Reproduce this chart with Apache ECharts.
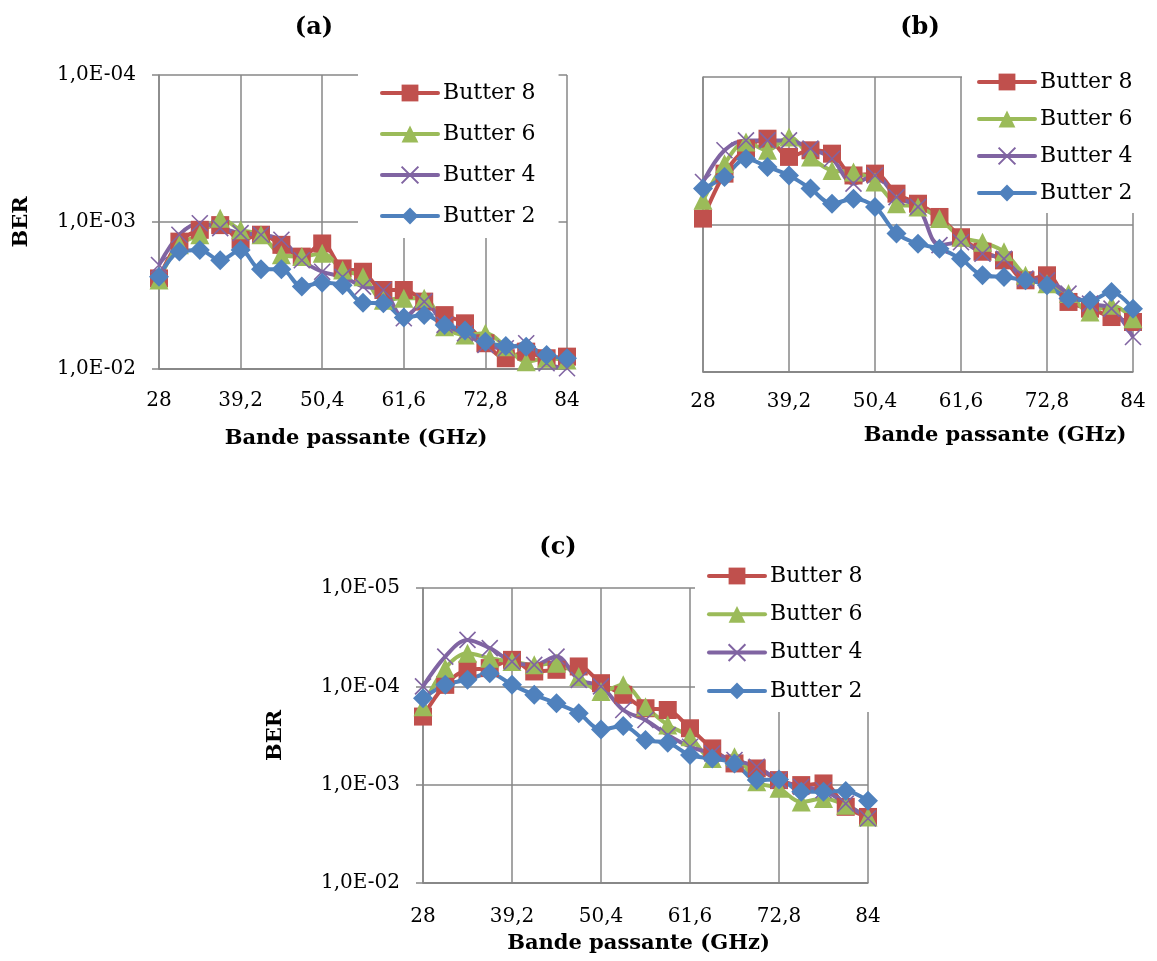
<!DOCTYPE html>
<html>
<head>
<meta charset="utf-8">
<script src="https://cdn.jsdelivr.net/npm/echarts@6/dist/echarts.min.js"></script>
<style>
html,body{margin:0;padding:0;background:#fff;}
#chart{width:1157px;height:961px;}
</style>
</head>
<body>
<div id="chart"></div>
<script>
// ---- Data (BER vs bandwidth in GHz) ----
const categories = ['28','30,8','33,6','36,4','39,2','42','44,8','47,6','50,4','53,2','56','58,8','61,6','64,4','67,2','70','72,8','75,6','78,4','81,2','84'];
const seriesNames = ['Butter 8','Butter 6','Butter 4','Butter 2'];
const yLabelsAB = ['1,0E-04','1,0E-03','1,0E-02'];
const yLabelsC = ['1,0E-05','1,0E-04','1,0E-03','1,0E-02'];
const panelTitles = ['(a)','(b)','(c)'];

// (a)
const a_butter8 = [2.42e-3,1.36e-3,1.13e-3,1.05e-3,1.32e-3,1.22e-3,1.43e-3,1.72e-3,1.40e-3,2.07e-3,2.18e-3,2.90e-3,2.90e-3,3.48e-3,4.30e-3,4.89e-3,6.68e-3,8.45e-3,7.62e-3,8.45e-3,8.24e-3];
const a_butter6 = [2.48e-3,1.43e-3,1.22e-3,9.44e-4,1.13e-3,1.22e-3,1.67e-3,1.72e-3,1.63e-3,2.12e-3,2.36e-3,3.40e-3,3.30e-3,3.30e-3,5.15e-3,5.87e-3,5.71e-3,7.05e-3,8.91e-3,8.45e-3,8.69e-3];
const a_butter4 = [1.96e-3,1.22e-3,1.02e-3,1.10e-3,1.19e-3,1.22e-3,1.32e-3,1.82e-3,2.18e-3,2.36e-3,2.75e-3,2.90e-3,4.52e-3,3.48e-3,5.01e-3,5.71e-3,6.87e-3,7.23e-3,6.68e-3,9.14e-3,9.89e-3];
const a_butter2 = [2.36e-3,1.59e-3,1.55e-3,1.82e-3,1.55e-3,2.10e-3,2.10e-3,2.75e-3,2.59e-3,2.69e-3,3.54e-3,3.57e-3,4.46e-3,4.30e-3,5.01e-3,5.48e-3,6.52e-3,6.98e-3,7.05e-3,8.04e-3,8.45e-3];

// (b)
const b_butter8 = [9.12e-4,4.52e-4,3.06e-4,2.62e-4,3.48e-4,3.14e-4,3.31e-4,4.65e-4,4.52e-4,6.18e-4,7.23e-4,8.89e-4,1.22e-3,1.53e-3,1.75e-3,2.39e-3,2.21e-3,3.35e-3,3.72e-3,4.24e-3,4.58e-3];
const b_butter6 = [6.85e-4,3.87e-4,2.76e-4,3.14e-4,2.55e-4,3.48e-4,4.30e-4,4.41e-4,5.15e-4,7.23e-4,7.60e-4,9.12e-4,1.22e-3,1.32e-3,1.53e-3,2.21e-3,2.52e-3,2.94e-3,3.92e-3,3.53e-3,4.35e-3];
const b_butter4 = [5.15e-4,3.14e-4,2.69e-4,2.69e-4,2.69e-4,3.06e-4,3.58e-4,5.28e-4,4.65e-4,6.52e-4,7.60e-4,1.38e-3,1.32e-3,1.58e-3,1.71e-3,2.33e-3,2.39e-3,2.94e-3,3.44e-3,3.72e-3,5.79e-3];
const b_butter2 = [5.71e-4,4.76e-4,3.58e-4,4.07e-4,4.65e-4,5.71e-4,7.23e-4,6.68e-4,7.60e-4,1.15e-3,1.35e-3,1.46e-3,1.71e-3,2.21e-3,2.27e-3,2.39e-3,2.58e-3,3.18e-3,3.27e-3,2.87e-3,3.72e-3];

// (c)
const c_butter8 = [2.03e-4,9.66e-5,6.79e-5,6.53e-5,5.38e-5,7.06e-5,6.79e-5,6.28e-5,9.29e-5,1.22e-4,1.67e-4,1.74e-4,2.67e-4,4.28e-4,6.08e-4,6.84e-4,8.99e-4,1.01e-3,9.72e-4,1.68e-3,2.13e-3];
const c_butter6 = [1.61e-4,6.53e-5,4.60e-5,5.18e-5,5.60e-5,6.05e-5,5.82e-5,7.96e-5,1.13e-4,9.66e-5,1.61e-4,2.47e-4,3.25e-4,5.41e-4,5.20e-4,9.35e-4,1.09e-3,1.50e-3,1.38e-3,1.62e-3,2.13e-3];
const c_butter4 = [1.00e-4,4.98e-5,3.37e-5,4.09e-5,5.60e-5,6.05e-5,4.98e-5,8.59e-5,1.00e-4,1.74e-4,2.20e-4,3.13e-4,4.11e-4,4.81e-4,5.62e-4,6.58e-4,8.99e-4,1.05e-3,1.14e-3,1.56e-3,2.21e-3];
const c_butter2 = [1.32e-4,9.66e-5,8.59e-5,7.35e-5,9.66e-5,1.22e-4,1.49e-4,1.88e-4,2.74e-4,2.53e-4,3.52e-4,3.74e-4,5.00e-4,5.41e-4,6.08e-4,8.99e-4,8.85e-4,1.18e-3,1.18e-3,1.16e-3,1.46e-3];

// ---- Styling ----
const FONT = 'DejaVu Serif';
const GRIDC = '#878787';
const colors = ['#C0504D','#9BBB59','#8064A2','#4F81BD'];
const symbols = ['rect','triangle','path://M0,0L10,10M10,0L0,10','diamond'];
const symbolSizes = [18,19,16,20];

const chart = echarts.init(document.getElementById('chart'), null, {renderer:'canvas'});

const gridsPos = [
  {left:159, top:75, width:408, height:294},
  {left:703, top:77, width:430, height:295},
  {left:423, top:588, width:445, height:295}
];

function makeX(i, labelMargin, nameGap, namePad) {
  return {
    type:'category', gridIndex:i, data:categories, boundaryGap:false,
    axisLine:{show:true, onZero:false, lineStyle:{color:GRIDC, width:1.5}},
    axisTick:{show:false},
    axisLabel:{interval:3, margin:labelMargin, color:'#000', fontFamily:FONT, fontSize:20},
    splitLine:{show:true, interval:3, lineStyle:{color:GRIDC, width:1.5}},
    name:'Bande passante (GHz)', nameLocation:'middle', nameGap:nameGap,
    nameTextStyle:{fontFamily:FONT, fontWeight:'bold', fontSize:21, color:'#000', padding:namePad}
  };
}
function makeY(i, min, labels, showLabels, nameGap) {
  return {
    type:'log', logBase:10, gridIndex:i, min:min, max:1e-2, inverse:true,
    axisLine:{show:true, lineStyle:{color:GRIDC, width:1.5}},
    axisTick:{show:showLabels, length:7, lineStyle:{color:GRIDC, width:1.5}},
    axisLabel:{show:showLabels, margin:23, color:'#000', fontFamily:FONT, fontSize:20,
      formatter:function(v, idx){ return labels[idx] !== undefined ? labels[idx] : ''; }},
    splitLine:{show:true, lineStyle:{color:GRIDC, width:1.5}},
    name: showLabels ? 'BER' : '', nameLocation:'middle', nameRotate:90, nameGap:nameGap,
    nameTextStyle:{fontFamily:FONT, fontWeight:'bold', fontSize:21, color:'#000'}
  };
}

const panelData = [
  [a_butter8,a_butter6,a_butter4,a_butter2],
  [b_butter8,b_butter6,b_butter4,b_butter2],
  [c_butter8,c_butter6,c_butter4,c_butter2]
];

const series = [];
panelData.forEach(function(arrs, gi){
  arrs.forEach(function(arr, si){
    series.push({
      type:'line', name:seriesNames[si], xAxisIndex:gi, yAxisIndex:gi,
      data:arr, smooth:0.35, symbol:symbols[si], symbolSize:symbolSizes[si],
      showAllSymbol:true,
      lineStyle:{color:colors[si], width:4},
      itemStyle:{color:colors[si], borderColor:colors[si], borderWidth: si===2 ? 1.6 : 0},
      emphasis:{disabled:true}
    });
  });
});

function makeLegend(left, top, padding, itemGap) {
  return {
    data:seriesNames, orient:'vertical', left:left, top:top, padding:padding,
    itemGap:itemGap, itemWidth:56, itemHeight:21, selectedMode:false,
    backgroundColor:'#ffffff',
    lineStyle:{width:4, cap:'round'},
    textStyle:{fontFamily:FONT, fontSize:22, color:'#000', lineHeight:22}
  };
}

const option = {
  animation:false,
  backgroundColor:'#ffffff',
  title:[
    {text:panelTitles[0], left:309, top:11, textAlign:'center', textStyle:{fontFamily:FONT, fontWeight:'bold', fontSize:24, color:'#000'}},
    {text:panelTitles[1], left:915, top:11, textAlign:'center', textStyle:{fontFamily:FONT, fontWeight:'bold', fontSize:24, color:'#000'}},
    {text:panelTitles[2], left:553, top:531, textAlign:'center', textStyle:{fontFamily:FONT, fontWeight:'bold', fontSize:24, color:'#000'}}
  ],
  legend:[
    makeLegend(358, 62, [20,23,11,22], 19),
    makeLegend(962, 57, [14,15,9,15], 15),
    makeLegend(695, 555, [10,15,10,12], 16.3)
  ],
  grid:gridsPos.map(function(g){ return Object.assign({containLabel:false}, g); }),
  xAxis:[
    makeX(0, 22, 59, [0,14,0,0]),
    makeX(1, 20, 53, [0,0,0,154]),
    makeX(2, 24, 50, [0,14,0,0])
  ],
  yAxis:[
    makeY(0, 1e-4, yLabelsAB, true, 127),
    makeY(1, 1e-4, yLabelsAB, false, 0),
    makeY(2, 1e-5, yLabelsC, true, 137)
  ],
  series:series
};
chart.setOption(option);
</script>
</body>
</html>
